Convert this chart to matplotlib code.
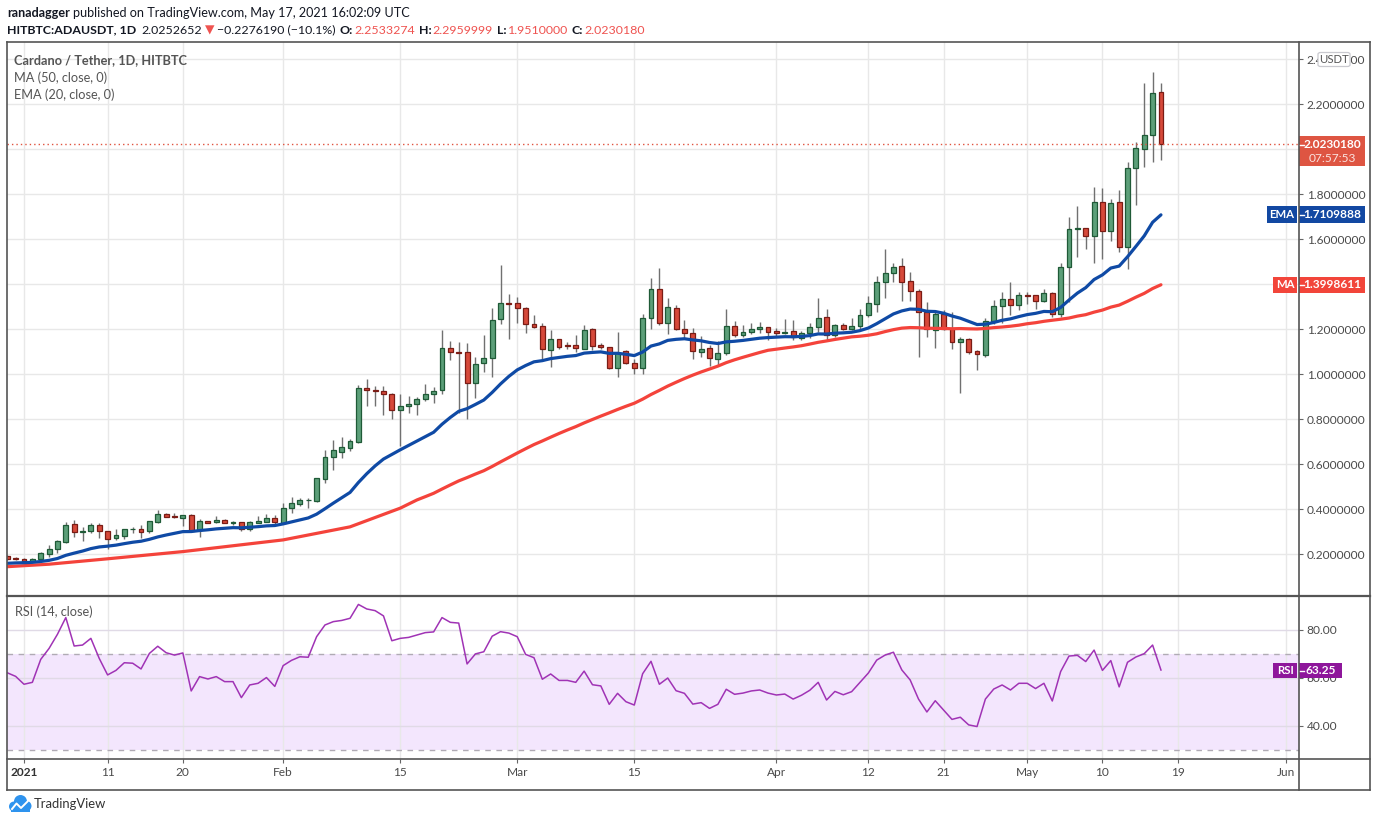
import numpy as np
import pandas as pd
import matplotlib
matplotlib.use('Agg')
import matplotlib.pyplot as plt
from matplotlib.patches import Rectangle, FancyBboxPatch, Ellipse
from matplotlib.lines import Line2D

plt.rcParams['font.family'] = ['Lato', 'DejaVu Sans']

# ---------------- data ----------------
dates = pd.date_range('2020-12-30', '2021-05-17', freq='D')

opens = [0.191, 0.184, 0.179, 0.170, 0.178, 0.203, 0.222, 0.255, 0.333, 0.298,
         0.302, 0.329, 0.304, 0.274, 0.283, 0.311, 0.311, 0.302, 0.345, 0.378,
         0.370, 0.363, 0.373, 0.307, 0.348, 0.342, 0.353, 0.338, 0.342, 0.311,
         0.341, 0.345, 0.363, 0.341, 0.407, 0.425, 0.441, 0.437, 0.536, 0.631,
         0.656, 0.674, 0.701, 0.938, 0.929, 0.924, 0.913, 0.840, 0.858, 0.870,
         0.889, 0.911, 0.929, 1.116, 1.098, 1.098, 0.960, 1.049, 1.074, 1.244,
         1.317, 1.316, 1.293, 1.224, 1.213, 1.107, 1.156, 1.129, 1.129, 1.114,
         1.200, 1.129, 1.123, 1.030, 1.102, 1.049, 1.027, 1.249, 1.378, 1.227,
         1.293, 1.200, 1.182, 1.098, 1.116, 1.067, 1.093, 1.213, 1.173, 1.187,
         1.200, 1.209, 1.193, 1.182, 1.193, 1.160, 1.182, 1.212, 1.253, 1.173,
         1.218, 1.200, 1.216, 1.262, 1.311, 1.412, 1.452, 1.481, 1.413, 1.369,
         1.276, 1.196, 1.267, 1.200, 1.142, 1.156, 1.102, 1.086, 1.237, 1.302,
         1.333, 1.307, 1.352, 1.351, 1.324, 1.360, 1.267, 1.479, 1.647, 1.652,
         1.616, 1.764, 1.639, 1.764, 1.564, 1.916, 2.000, 2.062, 2.2533274]
highs = [0.197, 0.187, 0.182, 0.182, 0.210, 0.241, 0.264, 0.342, 0.353, 0.321,
         0.341, 0.341, 0.304, 0.313, 0.314, 0.323, 0.330, 0.350, 0.397, 0.382,
         0.385, 0.375, 0.378, 0.356, 0.348, 0.369, 0.356, 0.348, 0.345, 0.348,
         0.372, 0.378, 0.375, 0.427, 0.456, 0.452, 0.449, 0.541, 0.664, 0.708,
         0.723, 0.714, 0.953, 0.979, 0.948, 0.948, 0.916, 0.913, 0.904, 0.899,
         0.957, 0.944, 1.197, 1.148, 1.145, 1.138, 1.076, 1.173, 1.293, 1.486,
         1.357, 1.345, 1.298, 1.264, 1.230, 1.197, 1.156, 1.142, 1.175, 1.219,
         1.206, 1.138, 1.123, 1.187, 1.108, 1.068, 1.268, 1.427, 1.471, 1.338,
         1.308, 1.241, 1.204, 1.170, 1.130, 1.150, 1.289, 1.237, 1.218, 1.227,
         1.234, 1.209, 1.204, 1.246, 1.241, 1.193, 1.228, 1.339, 1.290, 1.222,
         1.227, 1.249, 1.289, 1.348, 1.437, 1.557, 1.496, 1.516, 1.455, 1.378,
         1.321, 1.286, 1.286, 1.277, 1.167, 1.160, 1.108, 1.249, 1.330, 1.367,
         1.409, 1.367, 1.364, 1.351, 1.378, 1.364, 1.493, 1.698, 1.748, 1.652,
         1.834, 1.827, 1.778, 1.819, 1.942, 2.034, 2.293, 2.342, 2.2959999]
lows = [0.175, 0.175, 0.169, 0.166, 0.175, 0.187, 0.204, 0.250, 0.279, 0.259,
        0.296, 0.274, 0.225, 0.262, 0.270, 0.296, 0.274, 0.296, 0.338, 0.364,
        0.360, 0.326, 0.304, 0.279, 0.338, 0.339, 0.338, 0.330, 0.302, 0.305,
        0.338, 0.342, 0.330, 0.335, 0.385, 0.415, 0.407, 0.434, 0.518, 0.575,
        0.630, 0.659, 0.696, 0.861, 0.861, 0.821, 0.801, 0.683, 0.830, 0.821,
        0.880, 0.873, 0.911, 1.064, 0.830, 0.801, 0.896, 1.012, 0.990, 1.225,
        1.156, 1.230, 1.182, 1.206, 1.067, 1.031, 1.111, 1.111, 1.101, 1.111,
        1.108, 1.111, 1.022, 0.987, 1.046, 1.000, 1.000, 1.200, 1.219, 1.181,
        1.195, 1.160, 1.067, 1.079, 1.039, 1.041, 1.088, 1.167, 1.164, 1.178,
        1.185, 1.153, 1.170, 1.179, 1.153, 1.153, 1.160, 1.190, 1.153, 1.167,
        1.197, 1.197, 1.197, 1.255, 1.279, 1.341, 1.412, 1.327, 1.327, 1.079,
        1.167, 1.119, 1.197, 1.111, 0.916, 1.090, 1.019, 1.079, 1.222, 1.230,
        1.264, 1.286, 1.311, 1.292, 1.320, 1.253, 1.256, 1.320, 1.523, 1.557,
        1.496, 1.513, 1.593, 1.542, 1.468, 1.753, 1.923, 1.945, 1.9510000]
closes = [0.179, 0.178, 0.172, 0.179, 0.204, 0.222, 0.259, 0.329, 0.298, 0.302,
          0.329, 0.302, 0.270, 0.284, 0.311, 0.312, 0.301, 0.347, 0.378, 0.367,
          0.364, 0.373, 0.305, 0.347, 0.341, 0.351, 0.341, 0.345, 0.311, 0.344,
          0.348, 0.360, 0.342, 0.404, 0.427, 0.441, 0.442, 0.538, 0.631, 0.664,
          0.677, 0.702, 0.938, 0.929, 0.924, 0.911, 0.840, 0.858, 0.868, 0.889,
          0.911, 0.926, 1.116, 1.098, 1.093, 0.960, 1.044, 1.071, 1.240, 1.316,
          1.311, 1.293, 1.222, 1.212, 1.111, 1.156, 1.123, 1.128, 1.116, 1.196,
          1.127, 1.123, 1.030, 1.096, 1.049, 1.027, 1.249, 1.378, 1.227, 1.298,
          1.200, 1.182, 1.104, 1.111, 1.071, 1.093, 1.213, 1.173, 1.187, 1.200,
          1.209, 1.190, 1.182, 1.187, 1.164, 1.182, 1.209, 1.249, 1.173, 1.218,
          1.200, 1.213, 1.262, 1.316, 1.409, 1.449, 1.476, 1.409, 1.369, 1.276,
          1.200, 1.267, 1.200, 1.142, 1.156, 1.101, 1.089, 1.237, 1.302, 1.333,
          1.307, 1.351, 1.350, 1.324, 1.360, 1.267, 1.476, 1.644, 1.652, 1.616,
          1.764, 1.639, 1.760, 1.564, 1.916, 2.004, 2.062, 2.249, 2.0230180]
rsi = [62.1, 60.6, 57.3, 58.1, 67.7, 72.3, 78.2, 85.2, 73.3, 73.7,
       76.5, 68.1, 61.2, 63.1, 66.3, 66.1, 63.7, 70.2, 73.2, 70.5,
       69.5, 70.4, 54.5, 60.5, 59.5, 60.5, 58.4, 58.4, 51.7, 57.0,
       57.7, 60.1, 56.4, 65.1, 67.3, 68.8, 68.6, 77.2, 82.1, 83.5,
       84.0, 84.9, 90.7, 88.8, 88.1, 85.9, 75.5, 76.5, 76.9, 77.9,
       78.9, 79.2, 85.2, 83.2, 82.9, 65.8, 70.0, 70.9, 77.4, 79.3,
       78.7, 77.2, 69.8, 68.4, 59.4, 61.6, 58.9, 58.9, 58.1, 62.8,
       57.1, 56.6, 48.9, 53.5, 50.0, 48.6, 61.7, 66.9, 57.3, 59.9,
       54.6, 53.5, 49.0, 49.6, 47.2, 48.9, 55.2, 53.1, 53.6, 54.5,
       54.9, 53.6, 52.8, 53.2, 51.1, 52.7, 54.8, 58.1, 50.7, 54.3,
       52.9, 54.2, 58.1, 62.0, 67.4, 69.5, 70.7, 63.3, 59.1, 51.1,
       45.7, 50.4, 46.5, 42.6, 43.5, 40.3, 39.6, 51.1, 55.3, 57.0,
       54.9, 57.7, 57.7, 55.5, 57.7, 50.3, 62.6, 69.1, 69.4, 66.8,
       71.6, 63.1, 67.2, 56.2, 66.5, 68.7, 70.1, 73.7, 63.25]

ma50_early_dates = ['2020-12-30', '2021-01-04', '2021-01-11', '2021-01-20',
                    '2021-02-01', '2021-02-09', '2021-02-15']
ma50_early = [0.145, 0.156, 0.180, 0.212, 0.264, 0.322, 0.405]
ema20_start = 0.160   # EMA(20) value read at the first visible bar

tick_dates = ['2021-01-01', '2021-01-11', '2021-01-20', '2021-02-01', '2021-02-15',
              '2021-03-01', '2021-03-15', '2021-04-01', '2021-04-12', '2021-04-21',
              '2021-05-01', '2021-05-10', '2021-05-19', '2021-06-01']
tick_labels = ['2021', '11', '20', 'Feb', '15', 'Mar', '15', 'Apr', '12', '21',
               'May', '10', '19', 'Jun']
price_ticks = [0.2, 0.4, 0.6, 0.8, 1.0, 1.2, 1.4, 1.6, 1.8, 2.0, 2.2, 2.4]
hidden_price_ticks = [1.4, 2.0]   # fully covered by the MA / last-price labels
rsi_ticks = [40, 60, 80]

last_price = 2.0230180
ema_last_label = '1.7109888'
ma_last_label = '1.3998611'

# ---------------- derived series ----------------
origin = pd.Timestamp('2021-01-01')
x = np.array((dates - origin).days, dtype=float)
o = np.array(opens); h = np.array(highs); l = np.array(lows); c = np.array(closes)

alpha = 2.0 / 21.0
ema = [ema20_start]
for v in c[1:]:
    ema.append(alpha * v + (1 - alpha) * ema[-1])
ema = np.array(ema)

ma_roll = pd.Series(c).rolling(50).mean().values
valid = ~np.isnan(ma_roll)
ma_x = np.concatenate([(pd.to_datetime(ma50_early_dates) - origin).days.values.astype(float), x[valid]])
ma_y = np.concatenate([ma50_early, ma_roll[valid]])

tick_x = np.array((pd.to_datetime(tick_dates) - origin).days, dtype=float)

# ---------------- figure layout (pixel based) ----------------
W, H = 1376, 823
fig = plt.figure(figsize=(W / 100, H / 100), dpi=100)
fig.patch.set_facecolor('white')

def fx(px):
    return px / W

def fy(py):
    return 1 - py / H

L_PX, R_PX = 7, 1299
MAIN_T, MAIN_B = 41.5, 595.5
RSI_T, RSI_B = 596.5, 759

ax = fig.add_axes([fx(L_PX), fy(MAIN_B), fx(R_PX) - fx(L_PX), fy(MAIN_T) - fy(MAIN_B)])
ax2 = fig.add_axes([fx(L_PX), fy(RSI_B), fx(R_PX) - fx(L_PX), fy(RSI_T) - fy(RSI_B)])

xl = ((L_PX - 24) / 8.36, (R_PX - 24) / 8.36)
for a in (ax, ax2):
    a.set_xlim(*xl)
    for s in a.spines.values():
        s.set_visible(False)
    a.set_facecolor('white')

def pval(py):
    return 0.2 + (554.3 - py) / 225.0

def rval(py):
    return 80 - (py - 630) / 2.39

ax.set_ylim(pval(MAIN_B), pval(MAIN_T))
ax2.set_ylim(rval(RSI_B), rval(RSI_T))

grid_c = '#e8e8e8'
for a in (ax, ax2):
    a.set_xticks(tick_x)
    a.grid(True, axis='x', color=grid_c, lw=1, zorder=0)
ax.set_yticks(price_ticks)
ax.grid(True, axis='y', color=grid_c, lw=1, zorder=0)
ax.set_axisbelow(True)
ax2.set_axisbelow(True)

# candles
up = c >= o
body_b = np.minimum(o, c)
body_h = np.maximum(np.abs(c - o), 0.0025)
ax.vlines(x, l, h, color='#707070', lw=1, zorder=2)
ax.bar(x[up], body_h[up], bottom=body_b[up], width=0.58, color='#5c9f79',
       edgecolor='#1f5a37', linewidth=0.9, zorder=3)
ax.bar(x[~up], body_h[~up], bottom=body_b[~up], width=0.58, color='#d6493a',
       edgecolor='#7a1c15', linewidth=0.9, zorder=3)

# moving averages
ax.plot(ma_x, ma_y, color='#f4433b', lw=2.3, zorder=4, solid_capstyle='round')
ax.plot(x, ema, color='#0f4aa5', lw=2.3, zorder=4, solid_capstyle='round')

# current price dotted line
ax.axhline(last_price, color='#e0533f', lw=1, ls=(0, (1, 2.2)), zorder=5)

# axes ticks
ax.yaxis.tick_right()
ax.set_yticklabels(['' if any(abs(v - hv) < 1e-9 for hv in hidden_price_ticks) else '%.7f' % v
                    for v in price_ticks])
ax.tick_params(axis='y', length=3, width=0.8, color='#666666', labelsize=8.6,
               labelcolor='#4a4a4a', pad=2.5)
ax.tick_params(axis='x', length=0, labelbottom=False)

# RSI pane
ax2.axhspan(30, 70, color='#f3e6fd', lw=0, zorder=0.5)
ax2.set_yticks(rsi_ticks)
ax2.grid(True, axis='y', color='#e0dae6', lw=1, zorder=0.6)
ax2.axhline(70, color='#b0abb4', lw=1, ls=(0, (4, 4)), zorder=1)
ax2.axhline(30, color='#b0abb4', lw=1, ls=(0, (4, 4)), zorder=1)
ax2.plot(x, rsi, color='#a033b5', lw=1.1, zorder=3)
ax2.yaxis.tick_right()
ax2.set_yticklabels(['%.2f' % v for v in rsi_ticks])
ax2.tick_params(axis='y', length=3, width=0.8, color='#666666', labelsize=8.6,
                labelcolor='#4a4a4a', pad=2.5)
ax2.set_xticklabels(tick_labels)
ax2.tick_params(axis='x', length=3, width=0.8, color='#666666', labelsize=8.6,
                labelcolor='#4a4a4a', pad=2.5)
for lab in ax2.get_xticklabels():
    if lab.get_text() == '2021':
        lab.set_fontweight('bold')
        lab.set_color('#333333')

# ---------------- frame lines ----------------
frame_c = '#555555'
def hline(y, x0, x1, lw=1.2, col=frame_c):
    fig.add_artist(Line2D([fx(x0), fx(x1)], [fy(y), fy(y)], color=col, lw=lw))
def vline(xp, y0, y1, lw=1.2, col=frame_c):
    fig.add_artist(Line2D([fx(xp), fx(xp)], [fy(y0), fy(y1)], color=col, lw=lw))

hline(41.5, 7, 1369.5)
hline(790, 7, 1369.5)
vline(7, 41.5, 790)
vline(1369.5, 41.5, 790)
vline(1299, 41.5, 790)
hline(596, 7, 1369.5, lw=1.6)
hline(759, 7, 1369.5)

# ---------------- label boxes on the price scale ----------------
def box(x0, x1, y0, y1, fc, ec='none', lw=0, rounded=False):
    if rounded:
        p = FancyBboxPatch((fx(x0), fy(y1)), (x1 - x0) / W, (y1 - y0) / H,
                           boxstyle='round,pad=0,rounding_size=0.002',
                           transform=fig.transFigure, facecolor=fc, edgecolor=ec, lw=lw)
    else:
        p = Rectangle((fx(x0), fy(y1)), (x1 - x0) / W, (y1 - y0) / H,
                      transform=fig.transFigure, facecolor=fc, edgecolor=ec, lw=lw)
    fig.add_artist(p)

def ftext(xp, yp, s, **kw):
    kw.setdefault('fontsize', 8.6)
    kw.setdefault('va', 'center')
    return fig.text(fx(xp), fy(yp), s, **kw)

# USDT badge
box(1318, 1350, 52.5, 66.5, 'white', ec='#c9c9cf', lw=0.9, rounded=True)
ftext(1334, 59.5, 'USDT', ha='center', color='#555555', fontsize=8.2)

# current price label
red_lbl = '#de5542'
box(1299, 1365, 136, 166, red_lbl)
ftext(1332, 145, '%.7f' % last_price, ha='center', color='white', fontweight='bold')
ftext(1332, 158, '07:57:53', ha='center', color='#fbe3df')

# EMA
blue_lbl = '#1248a2'
box(1267, 1297, 206, 222.5, blue_lbl)
box(1299, 1365, 206, 222.5, blue_lbl)
ftext(1282, 214.5, 'EMA', ha='center', color='white', fontweight='bold', fontsize=8.2)
ftext(1332, 214.5, ema_last_label, ha='center', color='white', fontweight='bold')

# MA
ma_lbl = '#f2453a'
box(1273, 1297, 276.5, 293, ma_lbl)
box(1299, 1365, 276.5, 293, ma_lbl)
ftext(1285, 285, 'MA', ha='center', color='white', fontweight='bold', fontsize=8.2)
ftext(1332, 285, ma_last_label, ha='center', color='white', fontweight='bold')

# RSI
rsi_lbl = '#8e169b'
box(1273, 1297, 662.5, 678, rsi_lbl)
box(1299, 1342, 662.5, 678, rsi_lbl)
ftext(1285, 670.5, 'RSI', ha='center', color='white', fontweight='bold', fontsize=8.2)
ftext(1320.5, 670.5, '%.2f' % rsi[-1], ha='center', color='white', fontweight='bold')

for yy in (145, 214.5, 285, 670.5):
    hline(yy, 1299.5, 1304, lw=1, col='white')

# ---------------- pane legends ----------------
ftext(14, 60.5, 'Cardano / Tether, 1D, HITBTC', color='#555555', fontweight='bold', fontsize=9.2)
ftext(14, 77.5, 'MA (50, close, 0)', color='#555555', fontsize=9.2)
ftext(14, 94.5, 'EMA (20, close, 0)', color='#555555', fontsize=9.2)
ftext(15, 612, 'RSI (14, close)', color='#555555', fontsize=9.2)

# ---------------- header ----------------
renderer = fig.canvas.get_renderer()
def seq(xp, yp, parts, size=9.0):
    for s, col, wt, gap in parts:
        t = ftext(xp, yp, s, color=col, fontweight=wt, fontsize=size, ha='left')
        bb = t.get_window_extent(renderer=renderer)
        xp += bb.width + gap

dark = '#131722'
hred = '#ef5350'
seq(7, 13, [('ranadagger', dark, 'bold', 3),
            ('published on TradingView.com, May 17, 2021 16:02:09 UTC', dark, 'normal', 0)],
    size=9.1)
seq(7, 30, [('HITBTC:ADAUSDT, 1D', dark, 'bold', 5),
            ('2.0252652', dark, 'normal', 3),
            ('\u25BC', hred, 'normal', 3),
            ('\u22120.2276190 (\u221210.1%)', dark, 'normal', 4),
            ('O:', dark, 'bold', 1),
            ('2.2533274', hred, 'normal', 4),
            ('H:', dark, 'bold', 1),
            ('2.2959999', hred, 'normal', 4),
            ('L:', dark, 'bold', 1),
            ('1.9510000', hred, 'normal', 4),
            ('C:', dark, 'bold', 1),
            ('2.0230180', hred, 'normal', 0)],
    size=8.9)

# ---------------- TradingView logo ----------------
logo_c = '#2e93ee'
for cx, cy, r in [(14, 806.5, 5), (20.5, 801.5, 6.5), (26.5, 806, 5)]:
    fig.add_artist(Ellipse((fx(cx), fy(cy)), 2 * r / W, 2 * r / H,
                           transform=fig.transFigure, facecolor=logo_c, edgecolor='none'))
box(11, 30, 805, 811.5, logo_c)
fig.add_artist(Line2D([fx(12), fx(16.5), fx(21), fx(27.5)],
                      [fy(809), fy(803.5), fy(808), fy(801.5)], color='white', lw=1.4))
ftext(34, 804, 'TradingView', color='#333333', fontsize=9.4, ha='left')

fig.savefig('out.png', dpi=100)
